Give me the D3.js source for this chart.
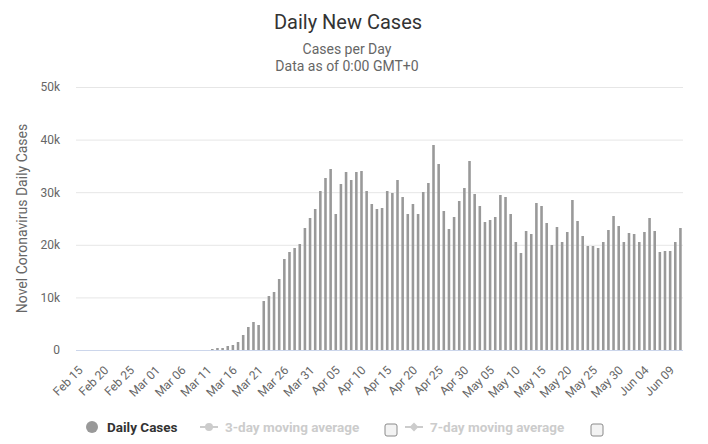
<!DOCTYPE html>
<html>
<head>
<meta charset="utf-8">
<script src="https://cdn.jsdelivr.net/npm/d3@7.9.0/dist/d3.min.js"></script>
<style>
  html, body { margin: 0; padding: 0; background: #fff; }
  svg { display: block; font-family: Roboto, "Noto Sans", sans-serif; }
</style>
</head>
<body>
<svg id="chart" width="708" height="444"></svg>
<script>
// categories: one per day, Feb 15 .. Jun 11
const febDays = ['Feb 15','Feb 16','Feb 17','Feb 18','Feb 19','Feb 20','Feb 21','Feb 22','Feb 23','Feb 24','Feb 25','Feb 26','Feb 27','Feb 28','Feb 29'];
const marDays = ['Mar 01','Mar 02','Mar 03','Mar 04','Mar 05','Mar 06','Mar 07','Mar 08','Mar 09','Mar 10','Mar 11','Mar 12','Mar 13','Mar 14','Mar 15','Mar 16',
  'Mar 17','Mar 18','Mar 19','Mar 20','Mar 21','Mar 22','Mar 23','Mar 24','Mar 25','Mar 26','Mar 27','Mar 28','Mar 29','Mar 30','Mar 31'];
const aprDays = ['Apr 01','Apr 02','Apr 03','Apr 04','Apr 05','Apr 06','Apr 07','Apr 08','Apr 09','Apr 10','Apr 11','Apr 12','Apr 13','Apr 14','Apr 15',
  'Apr 16','Apr 17','Apr 18','Apr 19','Apr 20','Apr 21','Apr 22','Apr 23','Apr 24','Apr 25','Apr 26','Apr 27','Apr 28','Apr 29','Apr 30'];
const mayDays = ['May 01','May 02','May 03','May 04','May 05','May 06','May 07','May 08','May 09','May 10','May 11','May 12','May 13','May 14','May 15','May 16',
  'May 17','May 18','May 19','May 20','May 21','May 22','May 23','May 24','May 25','May 26','May 27','May 28','May 29','May 30','May 31'];
const junDays = ['Jun 01','Jun 02','Jun 03','Jun 04','Jun 05','Jun 06','Jun 07','Jun 08','Jun 09','Jun 10','Jun 11'];
const categories = [...febDays, ...marDays, ...aprDays, ...mayDays, ...junDays];

// daily new cases (early values are too small to see)
const febCases = [0, 0, 0, 0, 0, 0, 2, 0, 0, 0, 0, 0, 0, 1, 3];
const marCases = [8, 23, 20, 31, 45, 50, 55, 60, 65, 75, 85, 250, 450, 450, 700, 950,
  1450, 2850, 4350, 5400, 4700, 9250, 10200, 11000, 13500, 17300, 18600, 19400, 20100, 23200, 25100];
const aprCases = [26800, 30300, 32700, 34400, 25800, 31600, 33800, 32300, 33800, 34000, 30300, 27700, 26800, 27000, 30300,
  29800, 32300, 29000, 25900, 27800, 25900, 30100, 31800, 38900, 35300, 26400, 23000, 25300, 28400, 30800];
const mayCases = [35900, 29600, 27300, 24400, 24700, 25300, 29400, 29000, 25900, 20600, 18400, 22700, 22000, 27900, 27300, 24100,
  19900, 23400, 20600, 22500, 28500, 24500, 21600, 19700, 19700, 19300, 20600, 22900, 25500, 23500, 20600];
const junCases = [22300, 22000, 20600, 22500, 25100, 22700, 18700, 18900, 18900, 20600, 23200];
const dailyCases = [...febCases, ...marCases, ...aprCases, ...mayCases, ...junCases];

const xTickLabels = ['Feb 15','Feb 20','Feb 25','Mar 01','Mar 06','Mar 11','Mar 16','Mar 21','Mar 26','Mar 31','Apr 05','Apr 10',
  'Apr 15','Apr 20','Apr 25','Apr 30','May 05','May 10','May 15','May 20','May 25','May 30','Jun 04','Jun 09'];
const yTicks = [0, 10000, 20000, 30000, 40000, 50000];

const data = categories.map((c, i) => ({ date: c, value: dailyCases[i] }));

const svg = d3.select('#chart');
const plot = { left: 76, right: 683, top: 87, bottom: 350 };

const x = d3.scaleBand().domain(categories).range([plot.left, plot.right]).padding(0);
const y = d3.scaleLinear().domain([0, 50000]).range([plot.bottom, plot.top]);

// titles
svg.append('text').attr('x', 348).attr('y', 29).attr('text-anchor', 'middle')
  .style('font-size', '20px').style('fill', '#333').text('Daily New Cases');
svg.append('text').attr('x', 347).attr('y', 54).attr('text-anchor', 'middle')
  .style('font-size', '14px').style('fill', '#666').text('Cases per Day');
svg.append('text').attr('x', 347).attr('y', 71).attr('text-anchor', 'middle')
  .style('font-size', '14px').style('fill', '#666').text('Data as of 0:00 GMT+0');

// y axis + grid
const yAxis = svg.append('g').attr('transform', `translate(${plot.left},0)`)
  .call(d3.axisLeft(y).tickValues(yTicks).tickSize(-(plot.right - plot.left)).tickPadding(16)
    .tickFormat(d => d === 0 ? '0' : (d / 1000) + 'k'));
yAxis.select('.domain').remove();
yAxis.selectAll('line').style('stroke', '#e6e6e6');
yAxis.selectAll('text').style('font-size', '12px').style('fill', '#666').style('font-family', 'Roboto');

svg.append('text')
  .attr('transform', `translate(27,${(plot.top + plot.bottom) / 2}) rotate(-90)`)
  .attr('text-anchor', 'middle')
  .style('font-size', '14px').style('fill', '#666')
  .text('Novel Coronavirus Daily Cases');

// bars (heights snapped to whole pixels)
const barW = x.bandwidth() * 0.5;
svg.append('g').selectAll('rect').data(data).join('rect')
  .attr('x', d => x(d.date) + (x.bandwidth() - barW) / 2)
  .attr('y', d => plot.bottom - Math.round(y(0) - y(d.value)))
  .attr('width', barW)
  .attr('height', d => Math.round(y(0) - y(d.value)))
  .attr('fill', '#999999');

// x axis
const xAxis = svg.append('g').attr('transform', `translate(0,${plot.bottom})`)
  .call(d3.axisBottom(x).tickValues(xTickLabels).tickSize(0));
xAxis.select('.domain').attr('d', `M${plot.left},0.5H${plot.right}`).style('stroke', '#ccd6eb');
xAxis.selectAll('text')
  .attr('x', 0).attr('y', 0).attr('dy', 0)
  .attr('text-anchor', 'end')
  .attr('transform', 'translate(5,21) rotate(-45)')
  .style('font-size', '12px').style('fill', '#666').style('font-family', 'Roboto');

// legend
const legend = svg.append('g').style('font-size', '13.5px').style('font-weight', 'bold');
legend.append('circle').attr('cx', 92).attr('cy', 427).attr('r', 6).attr('fill', '#999');
legend.append('text').attr('x', 107).attr('y', 432).style('fill', '#333').text('Daily Cases');

const faded = [
  { label: '3-day moving average', sx: 200, tx: 225, box: 385, marker: 'circle' },
  { label: '7-day moving average', sx: 405, tx: 430, box: 591, marker: 'diamond' }
];
faded.forEach(f => {
  legend.append('line').attr('x1', f.sx).attr('x2', f.sx + 18).attr('y1', 427).attr('y2', 427)
    .style('stroke', '#ccc').style('stroke-width', 2);
  if (f.marker === 'circle') {
    legend.append('circle').attr('cx', f.sx + 9).attr('cy', 427).attr('r', 4).attr('fill', '#ccc');
  } else {
    legend.append('path').attr('d', d3.symbol(d3.symbolDiamond2, 50)()).attr('transform', `translate(${f.sx + 9},427)`).attr('fill', '#ccc');
  }
  legend.append('text').attr('x', f.tx).attr('y', 432).style('fill', '#ccc').text(f.label);
  legend.append('rect').attr('x', f.box).attr('y', 424).attr('width', 12).attr('height', 12).attr('rx', 2)
    .attr('fill', '#f3f3f3').style('stroke', '#8a8a8a').style('stroke-width', 1);
});
</script>
</body>
</html>
